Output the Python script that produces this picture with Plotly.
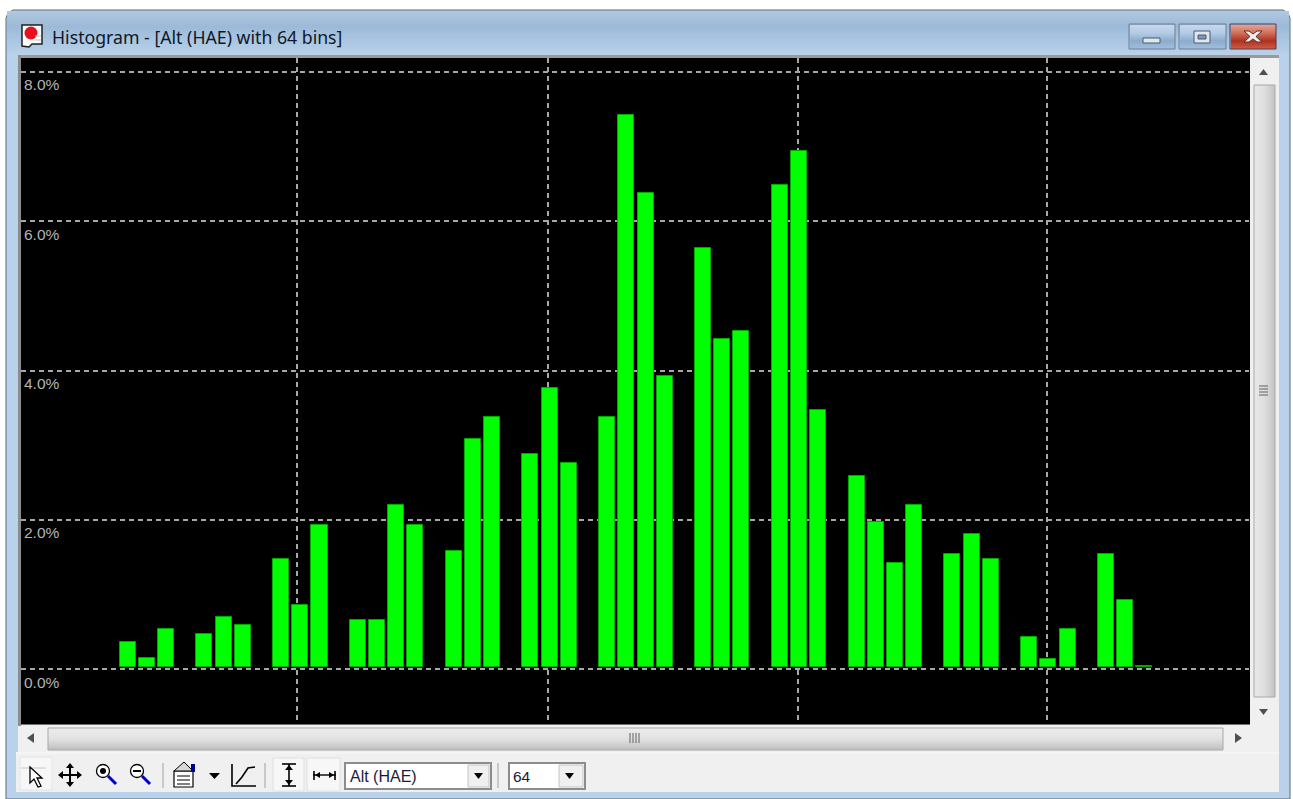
import plotly.graph_objects as go
import numpy as np

# ---------- data ----------
bin_index = [0,1,2, 4,5,6, 8,9,10, 12,13,14,15, 17,18,19, 21,22,23, 25,26,27,28,
             30,31,32, 34,35,36, 38,39,40,41, 43,44,45, 47,48,49, 51,52,53]
percent = [0.368,0.145,0.537, 0.475,0.697,0.596, 1.479,0.863,1.934, 0.663,0.663,2.206,1.934,
           1.581,3.086,3.375, 2.880,3.763,2.759, 3.375,7.427,6.379,3.933,
           5.637,4.424,4.526, 6.481,6.936,3.474, 2.590,1.975,1.420,2.202,
           1.541,1.814,1.479, 0.430,0.141,0.533, 1.541,0.930,0.041]
y_ticks = [0, 2, 4, 6, 8]
y_labels = ["0.0%", "2.0%", "4.0%", "6.0%", "8.0%"]
x_grid = [-4.11, 8.85, 21.91, 34.94, 47.93]
title_text = "Histogram - [Alt (HAE) with 64 bins]"
field_text = "Alt (HAE)"
bins_text = "64"

# ---------- layout geometry ----------
W, H = 1293, 799
L, R, T, B = 21, 1249, 58, 724
X0PX, BINPX = 127.7, 19.18
Y0PX, PCTPX = 669.3, 74.7
BAR_BASE = 0.033

def bx(px): return (px - X0PX) / BINPX
def by(px): return (Y0PX - px) / PCTPX
def fx(px): return (px - L) / (R - L)
def fy(py): return (B - py) / (B - T)

shapes = []
def rect(x0, y0, x1, y1, fill=None, line=None, lw=1):
    shapes.append(dict(type="rect", xref="paper", yref="paper", layer="below",
                       x0=fx(x0), x1=fx(x1), y0=fy(y0), y1=fy(y1),
                       fillcolor=fill or "rgba(0,0,0,0)",
                       line=dict(color=line or "rgba(0,0,0,0)", width=lw if line else 0)))
def seg(x0, y0, x1, y1, color, lw=1):
    shapes.append(dict(type="line", xref="paper", yref="paper", layer="below",
                       x0=fx(x0), x1=fx(x1), y0=fy(y0), y1=fy(y1),
                       line=dict(color=color, width=lw)))
def poly(pts, fill=None, line=None, lw=1, close=True):
    d = "M " + " L ".join(f"{fx(a):.5f},{fy(b):.5f}" for a, b in pts) + (" Z" if close else "")
    shapes.append(dict(type="path", xref="paper", yref="paper", layer="below", path=d,
                       fillcolor=fill or "rgba(0,0,0,0)",
                       line=dict(color=line or "rgba(0,0,0,0)", width=lw if line else 0)))
def circle(cx, cy, r, fill=None, line=None, lw=1):
    shapes.append(dict(type="circle", xref="paper", yref="paper", layer="below",
                       x0=fx(cx-r), x1=fx(cx+r), y0=fy(cy+r), y1=fy(cy-r),
                       fillcolor=fill or "rgba(0,0,0,0)",
                       line=dict(color=line or "rgba(0,0,0,0)", width=lw if line else 0)))
def lerp(c0, c1, t):
    return "rgb(%d,%d,%d)" % tuple(round(a + (b - a) * t) for a, b in zip(c0, c1))
def vgrad(x0, y0, x1, y1, stops):
    n = int(y1 - y0)
    for i in range(n):
        t = i / max(n - 1, 1) * (len(stops) - 1)
        k = min(int(t), len(stops) - 2)
        rect(x0, y0 + i, x1, y0 + i + 1, lerp(stops[k], stops[k + 1], t - k))
def hgrad(x0, y0, x1, y1, stops):
    n = int(x1 - x0)
    for i in range(n):
        t = i / max(n - 1, 1) * (len(stops) - 1)
        k = min(int(t), len(stops) - 2)
        rect(x0 + i, y0, x0 + i + 1, y1, lerp(stops[k], stops[k + 1], t - k))

# window frame
poly([(6, 799), (6, 18), (8, 13), (13, 10), (1283, 10), (1288, 13), (1290, 18), (1290, 799)],
     "#b9d1ea", "#5a6a78", 1)
vgrad(7, 11, 1289, 56, [(176,199,222), (156,186,216), (170,198,226), (186,210,234)])
rect(16, 55, 1279, 792, "#f0f0f0")
rect(16, 55, 1279, 58, "#9a9a9a")
rect(16, 55, 18, 752, "#b9d1ea")
rect(18, 55, 21, 726, "#8c8c8c")
rect(21, 58, 1250, 724, "#000000")
seg(21, 724.5, 1250, 724.5, "#707070")

# title icon
poly([(22, 25), (42, 25), (42, 44), (32, 44), (29, 47), (22, 46)], "#ffffff", "#202020", 1.5)
circle(31, 33, 6.5, "#e8101c")
seg(35, 36, 41, 36, "#c0c0c0"); seg(35, 40, 41, 40, "#c0c0c0")

# caption buttons
def cap(x0, x1, stops, edge):
    vgrad(x0 + 1, 25, x1, 49, stops)
    rect(x0, 24, x1, 49, None, edge, 1)
cap(1129, 1175, [(196,215,236), (178,203,229), (140,172,205), (160,190,220)], "#6d7f95")
cap(1179, 1226, [(196,215,236), (178,203,229), (140,172,205), (160,190,220)], "#6d7f95")
cap(1230, 1276, [(226,160,145), (208,110,90), (176,50,32), (204,90,70)], "#5e3540")
rect(1143, 38, 1160, 43, "#dfe6ee", "#4a5a70", 1)
rect(1194, 31, 1210, 43, "#dfe6ee", "#4a5a70", 1)
rect(1198, 35, 1206, 39, "#7f97b4", "#4a5a70", 1)
poly([(1244,31),(1249,31),(1253,34),(1257,31),(1262,31),(1256,36.5),(1262,42),(1257,42),(1253,39),(1249,42),(1244,42),(1250,36.5)],
     "#f0ece8", "#5a3030", 1)

# vertical scrollbar
hgrad(1254, 85, 1275, 697, [(232,232,232), (222,222,222), (196,196,196)])
rect(1254, 85, 1275, 697, None, "#a8a8a8", 1)
for gy in (386, 389, 392, 395):
    seg(1259, gy, 1268, gy, "#606060")
poly([(1259, 75), (1263.5, 69), (1268, 75)], "#505050")
poly([(1259, 709), (1268, 709), (1263.5, 715)], "#505050")

# horizontal scrollbar
vgrad(48, 728, 1223, 750, [(236,236,236), (226,226,226), (192,192,192)])
rect(48, 728, 1223, 750, None, "#a8a8a8", 1)
for gx in (630, 633, 636, 639):
    seg(gx, 733, gx, 743, "#606060")
poly([(34, 733), (27, 738), (34, 743)], "#505050")
poly([(1235, 733), (1242, 738), (1235, 743)], "#505050")
seg(16, 753, 1279, 753, "#fafafa")

# toolbar
rect(20, 757, 52, 790, "#f7f7f7", "#e4e4e4", 1)
seg(21, 768, 46, 768, "#c8c8c8")
poly([(30, 767), (30, 783), (34, 779), (38, 787), (41, 786), (37, 778), (42, 778)], "#ffffff", "#000000", 1.3)
# move icon
seg(70, 765, 70, 785, "#000000", 2); seg(60, 775, 80, 775, "#000000", 2)
for p in ([(66,768),(70,763),(74,768)], [(66,782),(70,787),(74,782)],
          [(63,771),(58,775),(63,779)], [(77,771),(82,775),(77,779)]):
    poly(p, "#000000")
# zoom in / out
for cx, cy in ((103, 771), (137, 771)):
    circle(cx, cy, 6.5, "#ffffff", "#000000", 1.3)
    seg(cx + 5, cy + 5, cx + 13, cy + 13, "#0000c8", 3)
circle(103, 771, 3, "#000000")
seg(133, 771, 141, 771, "#000000", 2)
seg(163, 763, 163, 788, "#a0a0a0", 1)
# properties icon
rect(174, 771, 193, 787, "#ffffff", "#000000", 1.2)
poly([(174, 771), (184, 762), (193, 771)], "#d8d8d8", "#000000", 1)
rect(191, 764, 195, 772, "#000090")
for gy in (776, 780, 784):
    seg(177, gy, 190, gy, "#000000")
poly([(209, 773), (220, 773), (214.5, 779)], "#000000")
# curve icon
poly([(232, 764), (232, 786), (256, 786)], None, "#000000", 1.6, close=False)
poly([(236, 784), (242, 777), (248, 768), (255, 767)], None, "#000000", 1.6, close=False)
seg(265, 763, 265, 788, "#a0a0a0", 1)
# range buttons
rect(273, 758, 304, 791, "#f7f7f7", "#e0e0e0", 1)
rect(307, 758, 340, 791, "#f7f7f7", "#e0e0e0", 1)
seg(289, 764, 289, 786, "#000000", 1.6)
seg(282, 764, 296, 764, "#000000", 1.6); seg(282, 786, 296, 786, "#000000", 1.6)
poly([(285, 770), (289, 765), (293, 770)], "#000000"); poly([(285, 780), (289, 785), (293, 780)], "#000000")
seg(313, 775, 336, 775, "#000000", 1.4)
seg(314, 771, 314, 780, "#000000", 1.6); seg(335, 771, 335, 780, "#000000", 1.6)
poly([(320, 772), (315, 775), (320, 778)], "#000000"); poly([(329, 772), (334, 775), (329, 778)], "#000000")
# combos
for x0, x1, bx0 in ((345, 491, 468), (509, 585, 559)):
    rect(x0, 763, x1, 789, "#ffffff", "#8c8c8c", 2)
    rect(bx0, 765, x1 - 2, 787, "#f0f0f0", "#c4c4c4", 1)
    poly([(bx0 + 6, 773), (bx0 + 15, 773), (bx0 + 10.5, 779)], "#000000")
seg(498, 763, 498, 788, "#a0a0a0", 1)

def label(x, y, text, size, color, family):
    return dict(xref="paper", yref="paper", x=fx(x), y=fy(y), text=text, showarrow=False,
                xanchor="left", yanchor="middle", xshift=-1, font=dict(size=size, color=color, family=family))
annotations = [
    label(51, 37, title_text, 17.7, "#101828", "Noto Sans"),
    label(349, 776, field_text, 16, "#1a1a3a", "Liberation Sans"),
    label(512, 776, bins_text, 15.5, "#1a1a3a", "Liberation Sans"),
]

# ---------- figure ----------
vals = np.array(percent)
fig = go.Figure(go.Bar(
    x=bin_index, y=vals - BAR_BASE, base=BAR_BASE, width=0.835,
    marker=dict(color="#00ff00", line=dict(color="#00a800", width=1)),
    hoverinfo="skip",
))
grid = dict(showgrid=True, gridcolor="#a8a8a8", griddash="5px,4px", gridwidth=2, zeroline=False)
fig.update_layout(
    width=W, height=H, autosize=False, showlegend=False,
    margin=dict(l=L, r=W - R, t=T, b=H - B, pad=0),
    paper_bgcolor="#ffffff", plot_bgcolor="#000000",
    bargap=0, shapes=shapes, annotations=annotations,
    xaxis=dict(range=[bx(L), bx(R)], tickmode="array", tickvals=x_grid, showticklabels=False,
               ticks="", showline=False, **grid),
    yaxis=dict(range=[by(B), by(T)], tickmode="array", tickvals=y_ticks, ticktext=y_labels,
               ticklabelposition="inside", ticks="", showline=False, ticklabelshift=13,
               tickfont=dict(family="Liberation Sans", size=15.5, color="#b4b4b4"), **grid),
)
fig.write_html("out.html", config=dict(displayModeBar=False),
               post_script="document.body.style.margin='0';document.body.style.overflow='hidden';")
